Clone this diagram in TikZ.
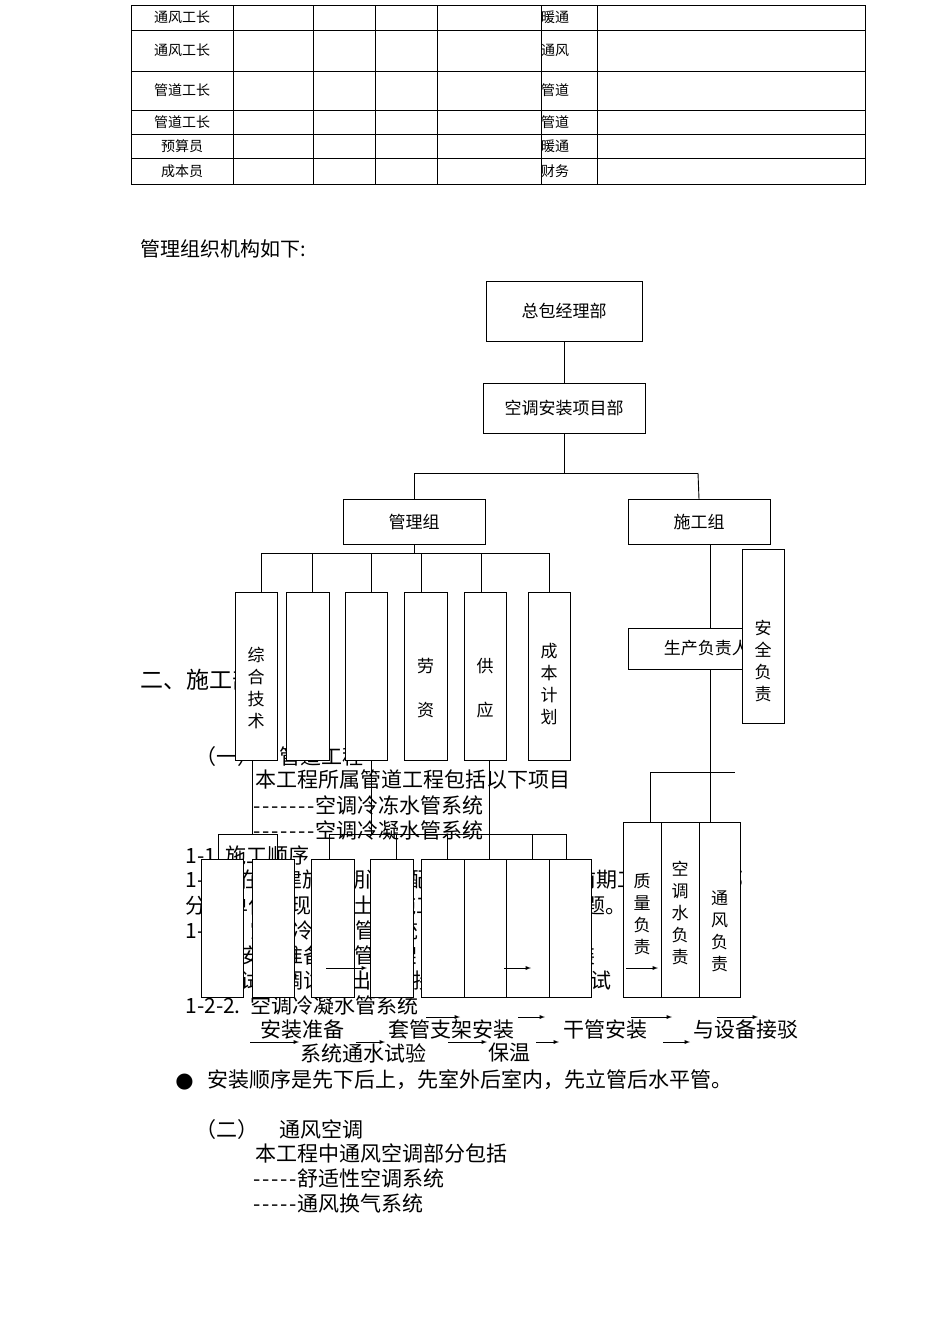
\documentclass[tikz,border=0pt]{standalone}
\usepackage{fontspec}
\setmainfont[Ligatures={}]{Noto Sans CJK SC}
\newcommand{\dsh}[1]{\foreach \i in {1,...,#1}{\makebox[9pt]{-}}}
\begin{document}
\begin{tikzpicture}[x=1pt,y=-1pt,line width=0.9pt,
 bx/.style={draw,fill=white,inner sep=0pt},
 tt/.style={anchor=west,inner sep=0pt,font=\fontsize{21}{21}\selectfont},
 tb/.style={inner sep=0pt,font=\fontsize{14}{14}\selectfont},
 ob/.style={draw,fill=white,inner sep=0pt,font=\fontsize{17}{17}\selectfont},
 vt/.style={align=center,font=\fontsize{17}{22}\selectfont}]
\useasboundingbox (0,0) rectangle (950,1344);
% table
\draw (131,5) rectangle (865,184);
\foreach \y in {30,71,110,134,158} \draw (131,\y)--(865,\y);
\foreach \x in {233,313,375,437,541,597} \draw (\x,5)--(\x,184);
\foreach \t/\u/\y in {通风工长/暖通/17.5,通风工长/通风/50.5,管道工长/管道/90.5,管道工长/管道/122,预算员/暖通/146,成本员/财务/171}{
 \node[tb] at (182,\y) {\t}; \node[tb] at (555,\y) {\u};}
\node[tt,font=\fontsize{20}{20}\selectfont] at (140,249) {管理组织机构如下:};
% body text (drawn under boxes)
\node[tt,font=\fontsize{23}{23}\selectfont] at (140,680) {二、施工部署};
\node[tt] at (195,757) {（一）\quad 管道工程};
\node[tt] at (255,780) {本工程所属管道工程包括以下项目};
\node[tt] at (252,805) {\dsh{7}空调冷冻水管系统};
\node[tt] at (252,830) {\dsh{7}空调冷凝水管系统};
\node[tt] at (185,855) {1-1\ \ 施工顺序};
\node[tt] at (185,880) {1-1-1 在土建施工期间，配合预留预埋做好前期工作，预埋部};
\node[tt] at (185,905) {分包单位到现场与土建施工人员共同解决问题。};
\node[tt] at (185,930) {1-2-1.\ \ 空调冷冻水管系统};
\node[tt] at (240,955) {安装准备\ \ 套管支架\ 干管安装\ 立管安装\ \ \ \ \ \ 装及与};
\node[tt] at (240,980) {试压调试\ 进出口连接\ \ 系统冲洗\ \ \ \ \ \ \ \ \ 调试};
\node[tt] at (185,1005) {1-2-2.\ \ 空调冷凝水管系统};
\node[tt] at (260,1030) {安装准备};
\node[tt] at (388,1030) {套管支架安装};
\node[tt] at (563,1030) {干管安装};
\node[tt] at (693,1030) {与设备接驳};
\node[tt] at (300,1053) {系统通水试验};
\node[tt] at (488,1053) {保温};
\foreach \a/\b in {426/460,518/545,631/672,717/758} \draw[-latex] (\a,1017)--(\b,1017);
\foreach \a/\b in {250/299,356/385,448/487,536/559,663/690} \draw[-latex] (\a,1042)--(\b,1042);
\node[tt] at (175,1080) {\fontspec{DejaVu Sans}●\ \ \fontspec{Noto Sans CJK SC}安装顺序是先下后上，先室外后室内，先立管后水平管。};
\node[tt] at (195,1130) {（二）\quad 通风空调};
\node[tt] at (255,1153) {本工程中通风空调部分包括};
\node[tt] at (252,1178) {\dsh{5}舒适性空调系统};
\node[tt] at (252,1203) {\dsh{5}通风换气系统};
% org chart
\node[ob,minimum width=156,minimum height=60] (zb) at (564,311) {总包经理部};
\node[ob,minimum width=162,minimum height=50] (kt) at (564,408) {空调安装项目部};
\node[ob,minimum width=142,minimum height=45] (gl) at (414,522) {管理组};
\node[ob,minimum width=142,minimum height=45] (sg) at (699,522) {施工组};
\draw (zb.south)--(kt.north);
\draw (kt.south)--(564,473);
\draw (414,473)--(698,473);
\draw (414,473)--(gl.north); \draw (698,473)--(sg.north);
\draw (gl.south)--(414,553);
\draw (261,553)--(549,553);
\foreach \x in {261,312,371,421,481,549} \draw (\x,553)--(\x,592);
% lower left lines
\draw (252,760)--(252,834); \draw (218,834)--(277,834);
\draw (218,834)--(218,859); \draw (277,834)--(277,859);
\draw (371,760)--(371,834); \draw (489,760)--(489,859);
\draw (329,834)--(566,834);
\foreach \x in {329,396,447,489,532,566} \draw (\x,834)--(\x,859);
% upper boxes
\foreach \a/\b/\t in {235/277/综\\合\\技\\术,286/329/,345/387/,404/447/劳\\[22pt]资,464/506/供\\[22pt]应}
 \draw[fill=white] (\a,592) rectangle (\b,760) node[midway,vt,yshift=-12pt] {\t};
\draw[fill=white] (528,592) rectangle (570,760) node[midway,vt,yshift=-8pt] {成\\本\\计\\划};
% right side
\draw (710,545)--(710,822);
\draw (650,772)--(735,772); \draw (650,772)--(650,822);
\draw[fill=white] (628,628) rectangle (760,669);
\node[font=\fontsize{17}{17}\selectfont,anchor=west] at (660,648) {生产负责人};
\draw[fill=white] (742,549) rectangle (784,723) node[midway,vt,yshift=-25pt] {安\\全\\负\\责};
% lower boxes
\foreach \a/\b in {201/243,252/294,311/354,370/413,421/464,464/506,506/549,549/591}
 \draw[fill=white] (\a,859) rectangle (\b,997);
\draw (627,822)--(735,822);
\draw[fill=white] (623,822) rectangle (661,997) node[midway,vt,yshift=-5pt] {质\\量\\负\\责};
\draw[fill=white] (661,822) rectangle (699,997) node[midway,vt,yshift=-3pt] {空\\调\\水\\负\\责};
\draw[fill=white] (699,822) rectangle (740,997) node[midway,vt,yshift=-22pt] {通\\风\\负\\责};
\foreach \a/\b in {326/367,504/531,626/658} \draw[-latex] (\a,968)--(\b,968);
\end{tikzpicture}
\end{document}
